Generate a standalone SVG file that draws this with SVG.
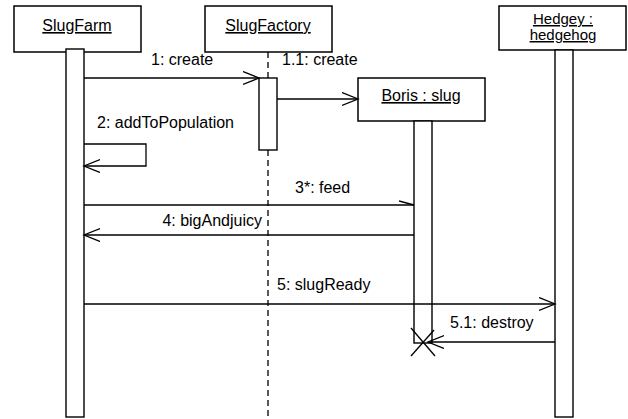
<svg xmlns="http://www.w3.org/2000/svg" width="628" height="419" viewBox="0 0 628 419">
<style>
.box{fill:#fff;stroke:#000;stroke-width:1.5}
.act{fill:#fff;stroke:#000;stroke-width:1.4}
.msg{fill:none;stroke:#000;stroke-width:1.3}
.life{fill:none;stroke:#000;stroke-width:1.3;stroke-dasharray:6,4}
text{font-family:"Liberation Sans",Arial,sans-serif;font-size:16px;fill:#000}
.name{text-anchor:middle;text-decoration:underline}
.small{font-size:15px}
</style>
<defs>
<marker id="open" markerWidth="20" markerHeight="16" refX="16" refY="7" orient="auto" markerUnits="userSpaceOnUse">
<path d="M0,0.5 L16,7 L0,13.5" fill="none" stroke="#000" stroke-width="1.3"/>
</marker>
<marker id="half" markerWidth="20" markerHeight="16" refX="15" refY="7" orient="auto" markerUnits="userSpaceOnUse">
<path d="M0,3 L15,7" fill="none" stroke="#000" stroke-width="1.3"/>
</marker>
</defs>
<rect width="628" height="419" fill="#fff"/>

<g id="SlugFarm">
<rect class="box" x="14" y="6" width="127" height="46"/>
<rect class="act" x="66" y="49" width="18" height="368"/>
<text class="name" x="77" y="31">SlugFarm</text>
</g>

<g id="SlugFactory">
<rect class="box" x="205" y="6" width="127" height="46"/>
<line class="life" x1="268" y1="52" x2="268" y2="78"/>
<line class="life" x1="268" y1="150" x2="268" y2="416"/>
<rect class="act" x="259" y="78" width="18" height="72"/>
<text class="name" x="268" y="31">SlugFactory</text>
</g>

<g id="Boris">
<rect class="box" x="358" y="78" width="127" height="43"/>
<rect class="act" x="414" y="121" width="18" height="222"/>
<text class="name" x="421" y="101">Boris : slug</text>
<line class="msg" x1="411" y1="328" x2="435" y2="356"/>
<line class="msg" x1="411" y1="356" x2="434" y2="330"/>
</g>

<g id="Hedgey">
<rect class="box" x="499" y="6" width="127" height="44"/>
<rect class="act" x="555" y="50" width="18" height="367"/>
<text class="name small" x="563" y="24">Hedgey :</text>
<text class="name small" x="563" y="40">hedgehog</text>
</g>

<g id="connectors">
<line class="msg" x1="84" y1="78" x2="259" y2="78" marker-end="url(#open)"/>
<text x="151" y="65">1: create</text>
<line class="msg" x1="277" y1="99" x2="358" y2="99" marker-end="url(#open)"/>
<text x="282" y="65">1.1: create</text>
<polyline class="msg" points="84,144 146,144 146,166 84,166" marker-end="url(#open)"/>
<text x="97" y="128">2: addToPopulation</text>
<line class="msg" x1="84" y1="205" x2="414" y2="205" marker-end="url(#half)"/>
<text x="295" y="193">3*: feed</text>
<line class="msg" x1="414" y1="235" x2="84" y2="235" marker-end="url(#open)"/>
<text x="262" y="226" text-anchor="end">4: bigAndjuicy</text>
<line class="msg" x1="84" y1="304" x2="555" y2="304" marker-end="url(#open)"/>
<text x="277" y="290">5: slugReady</text>
<line class="msg" x1="555" y1="342" x2="428" y2="342" marker-end="url(#open)"/>
<text x="450" y="328">5.1: destroy</text>
</g>
</svg>
